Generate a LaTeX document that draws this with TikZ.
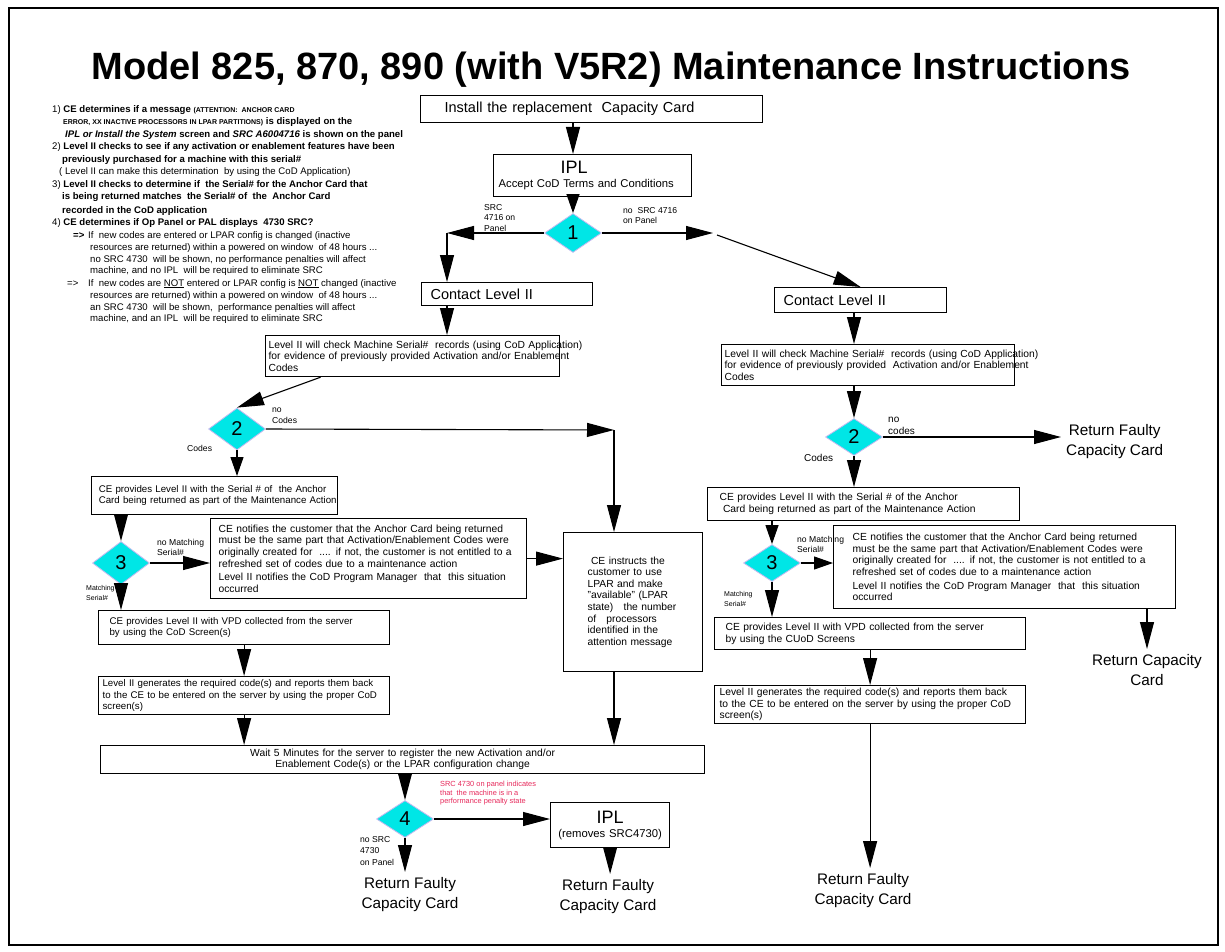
\documentclass[tikz,border=0pt]{standalone}
\usepackage{fontspec}
\setmainfont{Liberation Sans}
\usetikzlibrary{arrows.meta,shapes.geometric,positioning}

\definecolor{decfill}{RGB}{0,230,230}
\definecolor{decedge}{RGB}{200,185,240}
\definecolor{penred}{RGB}{230,40,90}

\newcommand*\titlefont{\fontsize{38}{42}\selectfont\bfseries}
\newcommand*\notefont{\fontsize{9.6}{12}\selectfont}
\newcommand*\capsfont{\fontsize{7}{8}\selectfont\bfseries}
\newcommand*\boxfont{\fontsize{10.3}{11.6}\selectfont}
\newcommand*\lboxfont{\fontsize{9.7}{11.4}\selectfont}
\newcommand*\headfont{\fontsize{14.5}{17}\selectfont}
\newcommand*\midfont{\fontsize{11.3}{14}\selectfont}
\newcommand*\iplfont{\fontsize{18}{20}\selectfont}
\newcommand*\lblfont{\fontsize{8.6}{10.5}\selectfont}
\newcommand*\smlfont{\fontsize{7}{10}\selectfont}
\newcommand*\redfont{\fontsize{7.4}{8.6}\selectfont}
\newcommand*\retfont{\fontsize{15.3}{20}\selectfont}
\newcommand*\digfont{\fontsize{20}{22}\selectfont}

\begin{document}
\begin{tikzpicture}[x=1pt,y=-1pt,
  >={Triangle[length=27pt,width=14pt]},
  arr/.style={->,line width=1.1pt},
  sarr/.style={-{Triangle[length=19pt,width=13pt]},line width=1.1pt},
  box/.style={draw,line width=1.2pt,anchor=north west,align=left,font=\boxfont,inner ysep=0pt},
  dec/.style={diamond,draw=decedge,line width=0.8pt,fill=decfill,inner sep=0pt,
    minimum width=57pt,minimum height=39pt,font=\digfont},
  note/.style={anchor=base west,inner sep=0pt,font=\notefont},
  lbl/.style={anchor=north west,inner sep=0pt,align=left,font=\lblfont},
  ret/.style={anchor=north,align=center,inner sep=5pt,font=\retfont}]

  \useasboundingbox (0,0) rectangle (1225,952);
  \draw[line width=2pt] (9,8) rectangle (1218,945);

  \node[font=\titlefont,anchor=base] (title) at (611,80) {Model 825, 870, 890 (with V5R2) Maintenance Instructions};

  % notes on the left
  \node[note] (n1) at (52,113) {1) \textbf{CE determines if a message} {\capsfont (ATTENTION:\ \ ANCHOR CARD}};
  \node[note] (n2) at (63,125) {{\capsfont ERROR, XX INACTIVE PROCESSORS IN LPAR PARTITIONS)} \textbf{is displayed on the}};
  \node[note] (n3) at (65,138) {\textbf{\textit{IPL or Install the System} screen and \textit{SRC A6004716} is shown on the panel}};
  \node[note] (n4) at (52,150) {2) \textbf{Level II checks to see if any activation or enablement features have been}};
  \node[note] (n5) at (62,163) {\textbf{previously purchased for a machine with this serial\#}};
  \node[note] (n6) at (59,175) {( Level II can make this determination\ \ by using the CoD Application)};
  \node[note] (n7) at (52,188) {3) \textbf{Level II checks to determine if\ \ the Serial\# for the Anchor Card that}};
  \node[note] (n8) at (62,200) {\textbf{is being returned matches\ \ the Serial\# of\ \ the\ \ Anchor Card}};
  \node[note] (n9) at (62,213) {\textbf{recorded in the CoD application}};
  \node[note] (n10) at (52,225) {4) \textbf{CE determines if Op Panel or PAL displays\ \ 4730 SRC?}};
  \node[note] (n11) at (73,238) {\makebox[15pt][l]{\textbf{=>}}If\ \ new codes are entered or LPAR config is changed (inactive};
  \node[note] (n12) at (90,250) {resources are returned) within a powered on window\ \ of 48 hours ...};
  \node[note] (n13) at (90,262) {no SRC 4730\ \ will be shown, no performance penalties will affect};
  \node[note] (n14) at (90,273) {machine, and no IPL\ \ will be required to eliminate SRC};
  \node[note] (n15) at (67,286) {\makebox[21pt][l]{=>}If\ \ new codes are \underline{NOT} entered or LPAR config is \underline{NOT} changed (inactive};
  \node[note] (n16) at (90,298) {resources are returned) within a powered on window\ \ of 48 hours ...};
  \node[note] (n17) at (90,310) {an SRC 4730\ \ will be shown,\ \ performance penalties will affect};
  \node[note] (n18) at (90,321) {machine, and an IPL\ \ will be required to eliminate SRC};

  % top of the flow
  \node[box,minimum width=342pt,minimum height=27pt,text width=294pt,inner xsep=24pt,font=\headfont] (inst) at (420,95) {Install the replacement~ Capacity Card};
  \node[box,minimum width=198pt,minimum height=42pt,text width=188pt,inner xsep=5pt,font=\midfont] (ipl1) at (493,154) {\hspace*{62pt}{\iplfont IPL}\\Accept CoD Terms and Conditions};
  \node[dec] (d1) at (573,233) {1};
  \coordinate (cL) at (447,233);
  \coordinate (cR) at (713,233);
  \coordinate (cR2) at (717,235);

  % left branch
  \node[box,minimum width=171pt,minimum height=23pt,text width=153pt,inner xsep=9pt,font=\headfont] (contL) at (421,282) {Contact Level II};
  \node[box,minimum width=294pt,minimum height=41pt,text width=288pt,inner xsep=3pt] (chkL) at (265,335) {\mbox{Level II will check Machine Serial\#\ \ records (using CoD Application)}\\\mbox{for evidence of previously provided Activation and/or Enablement}\\Codes};
  \node[dec,minimum height=42pt] (d2L) at (237,429) {2};
  \coordinate (cM) at (614,430);
  \node[box,minimum width=246pt,minimum height=38pt,text width=238pt,inner xsep=4pt,font=\lboxfont] (serL) at (91,476) {\mbox{\ CE provides Level II with the Serial \# of\ \ the Anchor}\\\mbox{\ Card being returned as part of the Maintenance Action}};
  \node[dec,minimum height=43pt] (d3L) at (121,563) {3};
  \node[box,minimum width=316pt,minimum height=80pt,text width=300pt,inner xsep=8pt] (notL) at (210,518) {CE notifies the customer that the Anchor Card being returned\\must be the same part that Activation/Enablement Codes were\\originally created for\ \ .... if not, the customer is not entitled to a\\refreshed set of codes due to a maintenance action\\[2pt]Level II notifies the CoD Program Manager\ \ that\ \ this situation\\occurred};
  \node[box,minimum width=139pt,minimum height=139pt,text width=91pt,inner xsep=24pt] (instr) at (563,532) {\ CE instructs the\\customer to use\\LPAR and make\\"available" (LPAR\\state)\ \ \ the number\\of\ \ \ processors\\identified in the\\attention message};
  \node[box,minimum width=291pt,minimum height=34pt,text width=269pt,inner xsep=11pt,font=\lboxfont] (vpdL) at (98,610) {CE provides Level II with VPD collected from the server\\by using the CoD Screen(s)};
  \node[box,minimum width=291pt,minimum height=38pt,text width=283pt,inner xsep=4pt,font=\lboxfont] (genL) at (98,676) {\mbox{Level II generates the required code(s) and reports them back}\\\mbox{to the CE to be entered on the server by using the proper CoD}\\screen(s)};
  \node[box,minimum width=604pt,minimum height=28pt,text width=596pt,inner xsep=4pt,align=center,font=\fontsize{10.3}{11}\selectfont] (wait) at (100,745) {Wait 5 Minutes for the server to register the new Activation and/or\\Enablement Code(s) or the LPAR configuration change};
  \node[dec,minimum height=37pt] (d4) at (405,819) {4};
  \node[box,minimum width=119pt,minimum height=45pt,text width=113pt,inner xsep=3pt,align=center,font=\midfont] (ipl2) at (550,802) {{\iplfont IPL}\\(removes SRC4730)};
  \node[ret] (retL) at (410,872) {Return Faulty\\Capacity Card};
  \node[ret] (retM) at (608,874) {Return Faulty\\Capacity Card};

  % right branch
  \node[box,minimum width=172pt,minimum height=25pt,text width=154pt,inner xsep=9pt,font=\headfont] (contR) at (774,287) {Contact Level II};
  \node[box,minimum width=293pt,minimum height=41pt,text width=287pt,inner xsep=3pt] (chkR) at (721,344) {\mbox{Level II will check Machine Serial\#\ \ records (using CoD Application)}\\\mbox{for evidence of previously provided\ \ Activation and/or Enablement}\\Codes};
  \node[dec,minimum height=37pt] (d2R) at (854,437) {2};
  \node[ret,anchor=west] (retR1) at (1061,442) {Return Faulty\\Capacity Card};
  \node[box,minimum width=312pt,minimum height=33pt,text width=288pt,inner xsep=12pt] (serR) at (707,487) {CE provides Level II with the Serial \# of the Anchor\\\ Card being returned as part of the Maintenance Action};
  \node[dec,minimum height=37pt] (d3R) at (772,563) {3};
  \node[box,minimum width=342pt,minimum height=83pt,text width=304pt,inner xsep=19pt] (notR) at (833,525) {CE notifies the customer that the Anchor Card being returned\\must be the same part that Activation/Enablement Codes were\\originally created for\ \ .... if not, the customer is not entitled to a\\refreshed set of codes due to a maintenance action\\[2pt]Level II notifies the CoD Program Manager\ \ that\ \ this situation\\occurred};
  \node[ret] (retR2) at (1147,649) {Return Capacity\\Card};
  \node[box,minimum width=311pt,minimum height=32pt,text width=289pt,inner xsep=11pt] (vpdR) at (714,617) {CE provides Level II with VPD collected from the server\\by using the CUoD Screens};
  \node[box,minimum width=311pt,minimum height=38pt,text width=301pt,inner xsep=5pt] (genR) at (714,685) {Level II generates the required code(s) and reports them back\\to the CE to be entered on the server by using the proper CoD\\screen(s)};
  \node[ret] (retR3) at (863,868) {Return Faulty\\Capacity Card};

  % branch labels
  \node[lbl] (l1) at (484,204) {SRC\\4716 on\\Panel};
  \node[lbl] (l2) at (623,207) {no\ \ SRC 4716\\on Panel};
  \node[lbl] (l3) at (272,408) {no\\Codes};
  \node[lbl] (l4) at (187,445) {Codes};
  \node[lbl] (l5) at (157,539) {no Matching\\Serial\#};
  \node[lbl,font=\smlfont] (l6) at (86,585) {Matching\\Serial\#};
  \node[lbl,font=\fontsize{10}{12}\selectfont] (l7) at (888,417) {no\\codes};
  \node[lbl,font=\fontsize{10}{12}\selectfont] (l8) at (804,454) {Codes};
  \node[lbl] (l9) at (797,536) {no Matching\\Serial\#};
  \node[lbl,font=\smlfont] (l10) at (724,591) {Matching\\Serial\#};
  \node[lbl,font=\fontsize{8.6}{11.5}\selectfont] (l11) at (360,836) {no SRC\\4730\\on Panel};
  \node[lbl,font=\redfont,text=penred] (l12) at (440,781) {SRC 4730 on panel indicates\\that\ \ the machine is in a\\performance penalty state};

  % connectors
  \draw[arr] (inst.south -| d1) -- (d1 |- ipl1.north);
  \draw[sarr] (ipl1.south -| d1) -- (d1.north);
  \draw[arr] (d1.west) -- (cL);
  \draw[arr] (cL) -- (cL |- contL.north);
  \draw[arr] (d1.east) -- (cR);
  \draw[arr] (cR2) -- (contR.north);
  \draw[arr] (contL.south -| cL) -- (cL |- chkL.north);
  \draw[arr] ([xshift=-92pt]chkL.south) -- (d2L.north);
  \draw[arr] (d2L.east) -- (cM);
  \draw[arr] (cM) -- (cM |- instr.north);
  \draw[sarr] (d2L.south) -- (d2L.south |- serL.north);
  \draw[arr] (serL.south -| d3L) -- (d3L.north);
  \draw[arr] (d3L.east) -- (d3L.east -| notL.west);
  \draw[arr] (d3L.south) -- (d3L.south |- vpdL.north);
  \draw[arr] (notL.east) -- (notL.east -| instr.west);
  \draw[arr] (vpdL.south) -- (vpdL.south |- genL.north);
  \draw[arr] (genL.south) -- (genL.south |- wait.north);
  \draw[arr] (cM |- instr.south) -- (cM |- wait.north);
  \draw[arr] (wait.south -| d4) -- (d4.north);
  \draw[arr] (d4.east) -- (d4.east -| ipl2.west);
  \draw[arr] (d4.south) -- (d4.south |- retL.north);
  \draw[arr] (ipl2.south) -- (ipl2.south |- retM.north);
  \draw[arr] (contR.south -| d2R) -- (d2R |- chkR.north);
  \draw[arr] (chkR.south -| d2R) -- (d2R.north);
  \draw[arr] (d2R.east) -- (d2R.east -| retR1.west);
  \draw[arr] (d2R.south) -- (d2R.south |- serR.north);
  \draw[sarr] (serR.south -| d3R) -- (d3R.north);
  \draw[sarr] (d3R.east) -- (d3R.east -| notR.west);
  \draw[arr] (d3R.south) -- (d3R.south |- vpdR.north);
  \draw[arr] (vpdR.south) -- (vpdR.south |- genR.north);
  \draw[arr] (genR.south) -- (genR.south |- retR3.north);
  \draw[arr] (notR.south -| retR2) -- (retR2.north);
\end{tikzpicture}
\end{document}
